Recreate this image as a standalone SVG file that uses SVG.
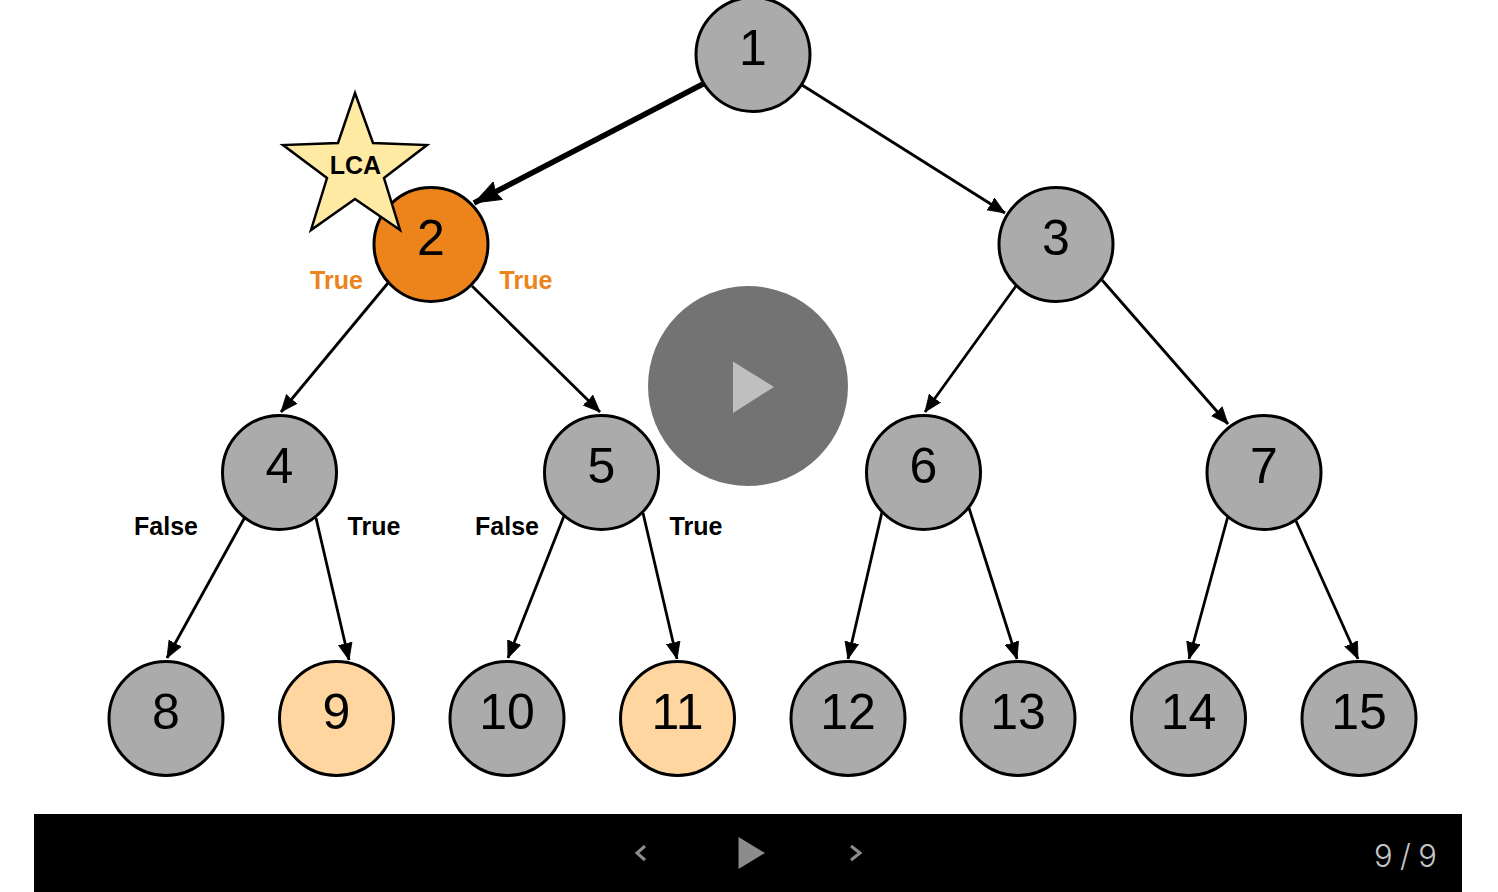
<svg xmlns="http://www.w3.org/2000/svg" width="1498" height="892" viewBox="0 0 1498 892">
<style>
.n{stroke:#000;stroke-width:3}
.g{fill:#ababab}
.p{fill:#ffd6a0}
.t{font-family:"Liberation Sans",Arial,sans-serif;font-size:50px;text-anchor:middle;fill:#000}
.l{font-family:"Liberation Sans",Arial,sans-serif;font-size:25px;font-weight:bold;text-anchor:middle;fill:#000}
.o{fill:#ec831b}
.c{stroke:#000;stroke-width:2.800;fill:none;marker-end:url(#a)}
</style>
<defs>
<marker id="a" markerUnits="userSpaceOnUse" markerWidth="20" markerHeight="18" refX="17" refY="9" orient="auto"><path d="M0 2L17 9L0 16L1 9Z" fill="#000" stroke="#000" stroke-width="0.800"/></marker>
<marker id="b" markerUnits="userSpaceOnUse" markerWidth="30" markerHeight="24" refX="27" refY="12" orient="auto"><path d="M0 2L27 12L0 22L3 12Z" fill="#000" stroke="#000" stroke-width="0.800"/></marker>
</defs>
<rect width="1498" height="892" fill="#fff"/>
<g id="connectors">
<path d="M703 84L474 203" stroke="#000" stroke-width="5.500" fill="none" marker-end="url(#b)"/>
<path class="c" d="M802 85L1005 213"/>
<path class="c" d="M388 283L281 412"/>
<path class="c" d="M472 286L600 412"/>
<path class="c" d="M1016 286L925 412"/>
<path class="c" d="M1102 280L1228 424"/>
<path class="c" d="M245 517L167 658"/>
<path class="c" d="M316 518L349 660"/>
<path class="c" d="M564 516L508 658"/>
<path class="c" d="M643 513L677 659"/>
<path class="c" d="M882 512L848 659"/>
<path class="c" d="M969 508L1017 659"/>
<path class="c" d="M1228 516L1189 659"/>
<path class="c" d="M1296 521L1358 659"/>
</g>
<g id="n1"><circle class="n g" cx="753" cy="54.500" r="57"/><text class="t" x="753" y="65">1</text></g>
<g id="n2"><circle class="n o" cx="431" cy="244.500" r="57"/><text class="t" x="431" y="254.500">2</text></g>
<g id="n3"><circle class="n g" cx="1056" cy="244.500" r="57"/><text class="t" x="1056" y="254.500">3</text></g>
<g id="n4"><circle class="n g" cx="279.500" cy="472.500" r="57"/><text class="t" x="279.500" y="482.500">4</text></g>
<g id="n5"><circle class="n g" cx="601.500" cy="472.500" r="57"/><text class="t" x="601.500" y="482.500">5</text></g>
<g id="n6"><circle class="n g" cx="923.500" cy="472.500" r="57"/><text class="t" x="923.500" y="482.500">6</text></g>
<g id="n7"><circle class="n g" cx="1264" cy="472.500" r="57"/><text class="t" x="1264" y="482.500">7</text></g>
<g id="n8"><circle class="n g" cx="166" cy="718.500" r="57"/><text class="t" x="166" y="729">8</text></g>
<g id="n9"><circle class="n p" cx="336.500" cy="718.500" r="57"/><text class="t" x="336.500" y="729">9</text></g>
<g id="n10"><circle class="n g" cx="507" cy="718.500" r="57"/><text class="t" x="507" y="729">10</text></g>
<g id="n11"><circle class="n p" cx="677.500" cy="718.500" r="57"/><text class="t" x="677.500" y="729">11</text></g>
<g id="n12"><circle class="n g" cx="848" cy="718.500" r="57"/><text class="t" x="848" y="729">12</text></g>
<g id="n13"><circle class="n g" cx="1018" cy="718.500" r="57"/><text class="t" x="1018" y="729">13</text></g>
<g id="n14"><circle class="n g" cx="1188.500" cy="718.500" r="57"/><text class="t" x="1188.500" y="729">14</text></g>
<g id="n15"><circle class="n g" cx="1359" cy="718.500" r="57"/><text class="t" x="1359" y="729">15</text></g>
<g id="lca"><polygon points="355,93 373,143 427,145 384,178 400,230 355,199 311,230 327,178 283,145 338,143" fill="#ffeaa3" stroke="#000" stroke-width="2.500"/><text class="l" x="355.500" y="174">LCA</text></g>
<g id="labels">
<text class="l" x="336.500" y="288.500" style="fill:#ec831b">True</text>
<text class="l" x="526" y="288.500" style="fill:#ec831b">True</text>
<text class="l" x="166" y="535">False</text>
<text class="l" x="374" y="535">True</text>
<text class="l" x="507" y="535">False</text>
<text class="l" x="696" y="535">True</text>
</g>
<g id="overlay"><circle cx="748" cy="386" r="100" fill="#737373"/><polygon points="733,361.500 774,387 733,413" fill="#bfbfbf"/></g>
<g id="bar">
<rect x="34" y="814" width="1428" height="78" fill="#000"/>
<path d="M645 846L637 853L645 860M851 846L860 853L851 860" fill="none" stroke="#8c8c8c" stroke-width="3"/>
<polygon points="738.500,837 765,853 738.500,869" fill="#8c8c8c"/>
<text x="1405.500" y="867" font-family="Inter,'Liberation Sans',sans-serif" font-size="31" fill="#c4c4c4" text-anchor="middle" font-weight="300" textLength="63">9 / 9</text>
</g>
</svg>
